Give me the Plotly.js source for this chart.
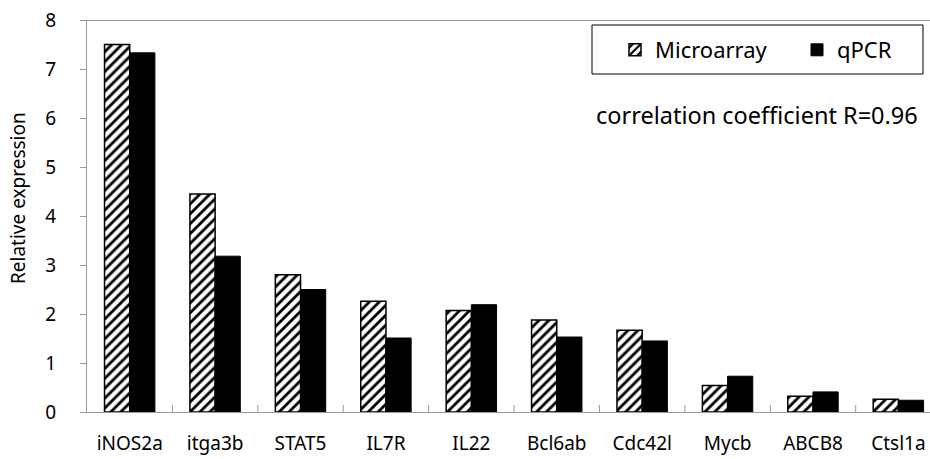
<!DOCTYPE html>
<html>
<head>
<meta charset="utf-8">
<script src="https://cdn.plot.ly/plotly-3.0.1.min.js"></script>
<style>html,body{margin:0;padding:0;background:#fff;}#chart{width:930px;height:459px;}</style>
</head>
<body>
<div id="chart"></div>
<script>
const genes = ["iNOS2a","itga3b","STAT5","IL7R","IL22","Bcl6ab","Cdc42l","Mycb","ABCB8","Ctsl1a"];
const microarray = [7.50,4.45,2.80,2.26,2.07,1.88,1.67,0.54,0.32,0.26];
const qpcr = [7.33,3.18,2.50,1.51,2.19,1.53,1.45,0.73,0.41,0.24];
const yTicks = [0,1,2,3,4,5,6,7,8];
const FONT = "Noto Sans, sans-serif";

const traces = [
  {type:"bar", name:"Microarray", x:genes, y:microarray,
   marker:{color:"#fff", line:{color:"#000", width:1.5},
     pattern:{shape:"/", fgcolor:"#000", bgcolor:"#fff", size:7, solidity:0.4}}},
  {type:"bar", name:"qPCR", x:genes, y:qpcr,
   marker:{color:"#000", line:{color:"#000", width:1}}}
];

const layout = {
  width:930, height:459,
  margin:{l:87, r:0, t:20, b:47, autoexpand:false},
  paper_bgcolor:"#fff", plot_bgcolor:"#fff",
  font:{family:FONT, color:"#000"},
  barmode:"group", bargap:0.41, bargroupgap:0,
  showlegend:true,
  legend:{orientation:"h", x:(615-87)/843, y:(412-50)/392, xanchor:"left", yanchor:"middle",
    borderwidth:0, bgcolor:"rgba(0,0,0,0)",
    font:{size:22, family:FONT}, itemwidth:30, entrywidth:137,
    traceorder:"normal"},
  xaxis:{type:"category", range:[-0.5,9.37], showline:true, linecolor:"#999", linewidth:1,
    ticks:"", showgrid:false, tickfont:{size:19, family:FONT}, ticklabelstandoff:14, automargin:false},
  yaxis:{range:[0,8], tickvals:yTicks, ticktext:yTicks.map(String), showline:true, linecolor:"#999", linewidth:1,
    ticks:"outside", ticklen:6, tickcolor:"#999", showgrid:false, zeroline:false,
    tickfont:{size:19, family:FONT}, ticklabelstandoff:20, automargin:false},
  shapes:[
    {type:"line", xref:"paper", yref:"y", x0:0, x1:1, y0:8, y1:8, line:{color:"#333", width:1}},
    {type:"rect", xref:"paper", yref:"paper", x0:(592-87)/843, x1:(923-87)/843, y0:(412-74)/392, y1:(412-25)/392,
     line:{color:"#000", width:1}, fillcolor:"rgba(0,0,0,0)", layer:"above"}
  ],
  annotations:[
    {text:"correlation coefficient R=0.96", xref:"paper", yref:"y", x:(920-87)/843, y:6.06, xanchor:"right", yanchor:"middle",
     showarrow:false, font:{size:23.5, family:FONT}},
    {text:"Relative expression", xref:"paper", yref:"paper", x:-(87-18)/843, y:(412-198)/392, xanchor:"center", yanchor:"middle",
     textangle:-90, showarrow:false, font:{size:19, family:FONT}}
  ]
};
// category boundary ticks
for (let i=0;i<genes.length;i++){
  layout.shapes.push({type:"line", xref:"x", yref:"paper", x0:i+0.5, x1:i+0.5, y0:0, y1:0.018, line:{color:"#999", width:1}});
}
Plotly.newPlot("chart", traces, layout, {displayModeBar:false, staticPlot:true});
</script>
</body>
</html>
